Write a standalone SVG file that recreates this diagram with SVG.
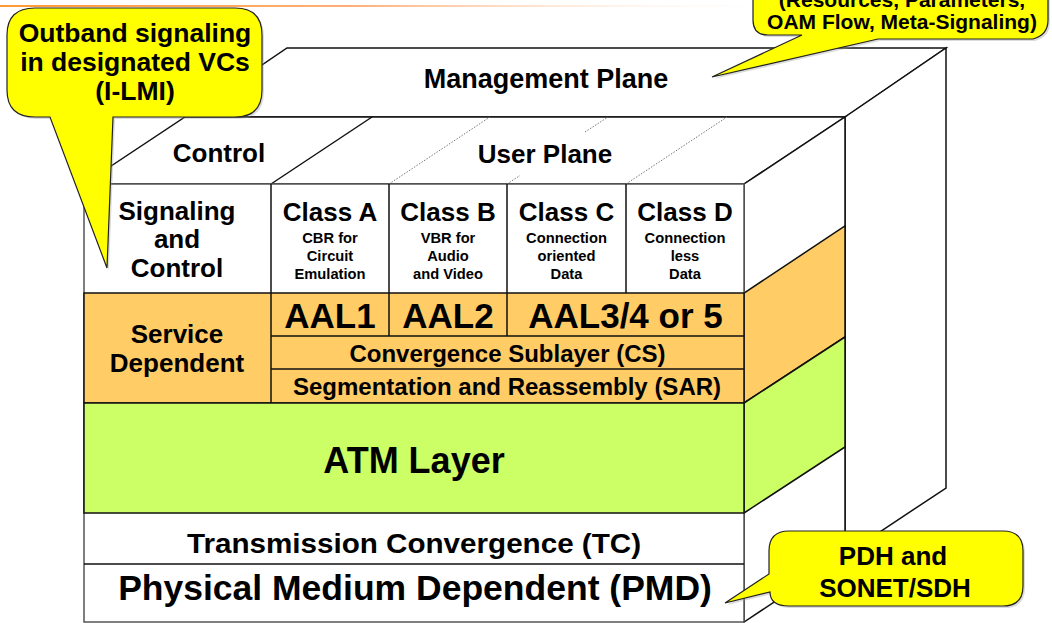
<svg xmlns="http://www.w3.org/2000/svg" width="1052" height="623" viewBox="0 0 1052 623">
<defs>
<linearGradient id="hdr" x1="0" y1="0" x2="1" y2="0">
<stop offset="0" stop-color="#FF9933"/>
<stop offset="0.45" stop-color="#FFB07A"/>
<stop offset="1" stop-color="#FFFFFF" stop-opacity="0"/>
</linearGradient>
<style>
.t{font-family:"Liberation Sans",Arial,sans-serif;font-weight:bold;fill:#000;text-anchor:middle}
.f26{font-size:26px}
.f35{font-size:35px}
.f24{font-size:24px}
.s{font-size:14.7px}
.ln{stroke:#111;stroke-width:1.5;fill:none}
.face{stroke:#111;stroke-width:1.5;stroke-linejoin:miter}
.dot{stroke:#777;stroke-width:1;stroke-dasharray:1.5 1.5;fill:none}
.call{fill:#FFFF00;stroke:#222;stroke-width:1.2}
.shadow{fill:#999;opacity:0.35}
</style>
</defs>
<rect width="1052" height="623" fill="#fff"/>
<rect x="0" y="5" width="790" height="2" fill="url(#hdr)"/>

<g id="management-plane">
<polygon class="face" fill="#fff" points="185,117 287,48 946,48 845,117"/>
<polygon class="face" fill="#fff" points="845,117 946,48 946,488 845,555"/>
<text class="t" x="546" y="88" font-size="27">Management Plane</text>
</g>

<g id="control-user-plane">
<polygon class="face" fill="#fff" points="84,184 185,117 845,117 744,184"/>
<polygon class="face" fill="#fff" points="744,184 845,117 845,555 744,622"/>
<polygon class="face" fill="#FFCC66" points="744,293 845,226 845,337 744,403"/>
<polygon class="face" fill="#CCFF66" points="744,403 845,337 845,447 744,513"/>
<text class="t f26" x="219" y="162">Control</text>
<text class="t f26" x="545" y="163">User Plane</text>
</g>

<g id="connectors">
<line class="ln" x1="271" y1="184" x2="372" y2="117"/>
<line class="dot" x1="389" y1="184" x2="490" y2="117"/>
<line class="dot" x1="507" y1="184" x2="520" y2="175.5"/>
<line class="dot" x1="585" y1="132" x2="608" y2="117"/>
<line class="dot" x1="626" y1="184" x2="727" y2="117"/>
</g>

<g id="front-face">
<rect x="84" y="184" width="660" height="438" fill="#fff" stroke="#555" stroke-width="1.5"/>
<rect x="84" y="293" width="660" height="110" fill="#FFCC66" stroke="#111" stroke-width="1.5"/>
<rect x="84" y="403" width="660" height="110" fill="#CCFF66" stroke="#111" stroke-width="1.5"/>
<line class="ln" x1="271" y1="184" x2="271" y2="403"/>
<line class="ln" x1="389" y1="184" x2="389" y2="336"/>
<line class="ln" x1="507" y1="184" x2="507" y2="336"/>
<line class="ln" x1="626" y1="184" x2="626" y2="293"/>
<line class="ln" x1="271" y1="336" x2="744" y2="336"/>
<line class="ln" x1="271" y1="369" x2="744" y2="369"/>
<line class="ln" x1="84" y1="564" x2="744" y2="564"/>
</g>

<g id="signaling">
<text class="t f26" x="177" y="220">Signaling</text>
<text class="t f26" x="177" y="248">and</text>
<text class="t f26" x="177" y="277">Control</text>
</g>
<g id="class-a">
<text class="t f26" x="330" y="221">Class A</text>
<text class="t s" x="330" y="243">CBR for</text>
<text class="t s" x="330" y="261">Circuit</text>
<text class="t s" x="330" y="279">Emulation</text>
</g>
<g id="class-b">
<text class="t f26" x="448" y="221">Class B</text>
<text class="t s" x="448" y="243">VBR for</text>
<text class="t s" x="448" y="261">Audio</text>
<text class="t s" x="448" y="279">and Video</text>
</g>
<g id="class-c">
<text class="t f26" x="566.5" y="221">Class C</text>
<text class="t s" x="566.5" y="243">Connection</text>
<text class="t s" x="566.5" y="261">oriented</text>
<text class="t s" x="566.5" y="279">Data</text>
</g>
<g id="class-d">
<text class="t f26" x="685" y="221">Class D</text>
<text class="t s" x="685" y="243">Connection</text>
<text class="t s" x="685" y="261">less</text>
<text class="t s" x="685" y="279">Data</text>
</g>
<g id="service-dependent">
<text class="t f26" x="177" y="343">Service</text>
<text class="t f26" x="177" y="372">Dependent</text>
</g>
<g id="aal">
<text class="t f35" x="330" y="328">AAL1</text>
<text class="t f35" x="448" y="328">AAL2</text>
<text class="t f35" x="625.5" y="328">AAL3/4 or 5</text>
</g>
<g id="cs"><text class="t f24" x="507.5" y="362">Convergence Sublayer (CS)</text></g>
<g id="sar"><text class="t f24" x="507" y="395">Segmentation and Reassembly (SAR)</text></g>
<g id="atm-layer"><text class="t" x="414" y="473" font-size="36">ATM Layer</text></g>
<g id="tc"><text class="t" x="414" y="553" font-size="28" textLength="454" lengthAdjust="spacingAndGlyphs">Transmission Convergence (TC)</text></g>
<g id="pmd"><text class="t" x="415" y="600" font-size="35.5">Physical Medium Dependent (PMD)</text></g>

<g id="callout-outband">
<path class="shadow" d="M37,10 H237 Q264,10 264,37 V92 Q264,119 237,119 H115 L109,270 L52,119 H37 Q9,119 9,92 V37 Q9,10 37,10 Z"/>
<path class="call" d="M35,8 H235 Q262,8 262,35 V90 Q262,117 235,117 H113 L107,268 L50,117 H35 Q7,117 7,90 V35 Q7,8 35,8 Z"/>
<text class="t" x="135" y="42" font-size="26.5">Outband signaling</text>
<text class="t" x="135" y="71" font-size="26.5">in designated VCs</text>
<text class="t" x="135" y="100" font-size="26.5">(I-LMI)</text>
</g>

<g id="callout-management">
<path class="shadow" d="M755,-40 V22 Q755,37 770,37 H804 L714,79 L880,41 H1035 Q1050,37 1050,22 V-40 Z"/>
<path class="call" d="M753,-40 V20 Q753,35 768,35 H802 L712,77 L878,39 H1033 Q1048,35 1048,20 V-40 Z"/>
<text class="t" x="902" y="7" font-size="21">(Resources, Parameters,</text>
<text class="t" x="902" y="29" font-size="21">OAM Flow, Meta-Signaling)</text>
</g>

<g id="callout-pdh">
<path class="shadow" d="M791,533 H1005 Q1025,533 1025,553 V588 Q1025,608 1005,608 H791 Q772,608 772,594 L727,605 L771,576 V553 Q771,533 791,533 Z"/>
<path class="call" d="M789,531 H1003 Q1023,531 1023,551 V586 Q1023,606 1003,606 H789 Q770,606 770,592 L725,603 L769,574 V551 Q769,531 789,531 Z"/>
<text class="t f26" x="893" y="565">PDH and</text>
<text class="t f26" x="895" y="597">SONET/SDH</text>
</g>
</svg>
